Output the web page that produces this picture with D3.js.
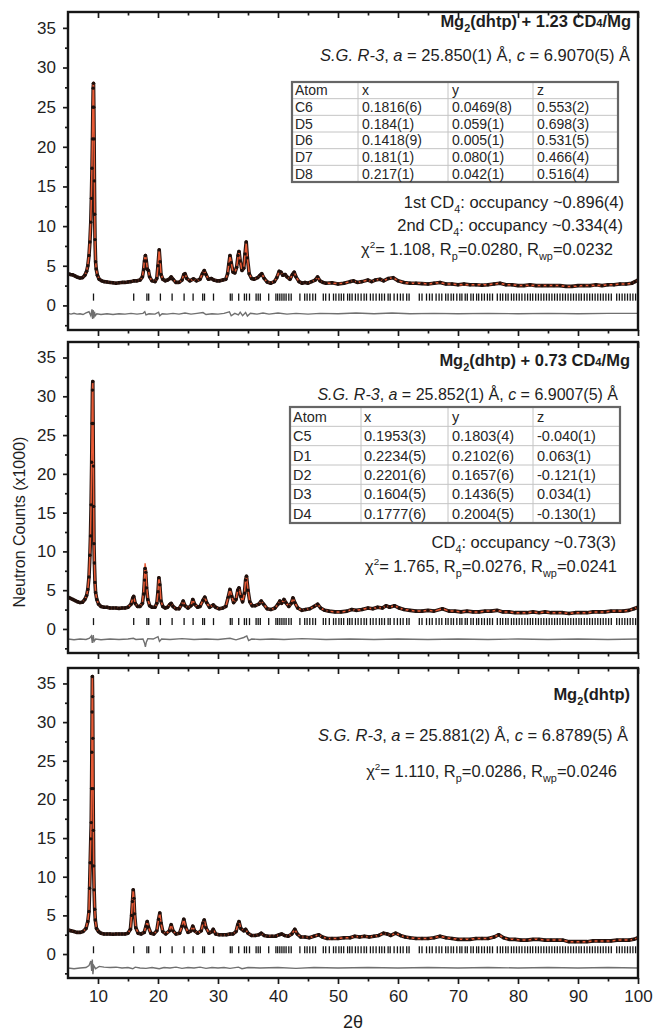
<!DOCTYPE html>
<html><head><meta charset="utf-8">
<script src="https://cdn.jsdelivr.net/npm/d3@7"></script>
<style>
body{margin:0;background:#fff}
svg{display:block}
text{font-family:"Liberation Sans",Arial,Helvetica,sans-serif;white-space:pre}
</style>
</head><body>
<svg id="chart" width="654" height="1032"></svg>
<script>
// ---------------- DATA ----------------
// rows: [2theta, observed (x1000), calculated (x1000)]
const pattern1 = [
[5.0,4.0,3.95],[5.4,3.9,3.9],[5.8,3.85,3.8],[6.2,3.7,3.7],[6.6,3.55,3.6],[7.0,3.45,3.5],[7.4,3.5,3.5],[7.8,3.8,3.8],
[8.1,4.3,4.3],[8.3,5.0,5.1],[8.5,6.3,6.4],[8.65,8.0,8.2],[8.8,10.5,10.8],[8.9,13.5,13.8],[9.0,17.3,17.8],[9.08,21.0,21.5],
[9.15,25.0,25.5],[9.2,27.4,27.8],[9.25,28.0,28.1],[9.3,25.0,25.3],[9.35,21.0,21.2],[9.4,15.7,16.0],[9.45,11.5,11.8],[9.5,8.3,8.5],
[9.6,5.5,5.6],[9.7,4.6,4.6],[9.9,3.8,3.8],[10.2,3.3,3.35],[10.6,3.1,3.1],[11.0,3.0,3.0],[11.5,2.95,2.95],[12.0,2.9,2.9],
[12.5,2.85,2.85],[13.0,2.8,2.85],[13.5,2.85,2.85],[14.0,2.9,2.9],[14.5,2.9,2.9],[15.0,2.95,2.95],[15.5,3.0,3.0],[16.0,3.1,3.1],
[16.5,3.1,3.1],[17.0,3.2,3.2],[17.4,3.6,3.6],[17.6,4.5,4.6],[17.75,5.6,5.8],[17.9,6.3,6.4],[18.05,5.6,5.7],[18.2,4.6,4.7],
[18.4,4.4,4.4],[18.6,3.6,3.6],[19.0,3.1,3.1],[19.5,3.0,3.0],[19.8,3.4,3.4],[20.0,5.0,5.1],[20.2,7.0,7.0],[20.35,5.5,5.6],
[20.5,3.9,4.0],[20.8,3.3,3.3],[21.2,3.1,3.1],[21.6,3.2,3.2],[22.0,3.4,3.4],[22.2,3.6,3.6],[22.5,3.3,3.3],[23.0,2.9,2.9],
[23.5,2.9,2.9],[24.0,3.2,3.2],[24.3,3.9,3.9],[24.5,4.0,4.0],[24.8,3.4,3.4],[25.3,3.1,3.1],[25.9,3.35,3.3],[26.4,3.1,3.1],
[27.0,3.3,3.3],[27.4,4.0,4.0],[27.7,4.4,4.4],[28.0,3.9,3.9],[28.4,3.3,3.3],[28.9,3.4,3.4],[29.3,3.2,3.2],[29.8,3.1,3.1],
[30.3,3.1,3.1],[30.8,3.2,3.2],[31.3,3.3,3.3],[31.6,4.0,4.0],[31.8,5.2,5.2],[32.0,6.3,6.2],[32.2,5.4,5.4],[32.5,4.2,4.2],
[32.8,4.1,4.1],[33.1,4.8,4.8],[33.35,6.3,6.2],[33.5,6.8,6.7],[33.7,5.6,5.6],[34.0,4.4,4.4],[34.3,4.7,4.7],[34.5,6.5,6.4],
[34.7,8.0,7.8],[34.9,6.0,6.0],[35.2,4.0,4.0],[35.6,3.4,3.4],[36.0,3.3,3.3],[36.6,3.5,3.5],[37.0,3.8,3.8],[37.3,4.0,4.0],
[37.7,3.4,3.4],[38.2,2.95,2.95],[38.8,2.8,2.85],[39.4,3.0,3.0],[39.8,3.5,3.5],[40.2,4.3,4.3],[40.5,4.2,4.2],[40.8,3.8,3.8],
[41.2,3.9,3.9],[41.5,3.6,3.6],[42.0,3.3,3.3],[42.4,3.9,3.9],[42.7,4.2,4.2],[43.0,3.6,3.6],[43.5,3.0,3.0],[44.0,2.8,2.8],
[44.5,2.9,2.9],[45.0,2.8,2.8],[45.6,3.0,3.0],[46.2,3.2,3.2],[46.6,3.6,3.6],[47.0,3.1,3.1],[47.5,2.9,2.9],[48.0,2.8,2.8],
[49.0,2.85,2.8],[50.0,2.7,2.75],[51.0,2.8,2.8],[52.0,3.0,3.0],[52.6,3.1,3.1],[53.2,2.9,2.9],[54.0,3.0,3.0],[55.0,3.2,3.2],
[55.6,3.0,3.0],[56.2,3.2,3.2],[57.0,3.3,3.3],[57.6,3.1,3.1],[58.4,3.4,3.4],[59.2,3.5,3.5],[60.0,3.1,3.1],[61.0,2.9,2.9],
[62.0,2.8,2.8],[63.0,2.8,2.8],[64.0,2.75,2.8],[65.0,2.7,2.7],[66.0,2.8,2.8],[67.0,2.9,2.9],[68.0,2.7,2.7],[69.0,2.7,2.7],
[70.0,2.6,2.6],[71.0,2.7,2.65],[72.0,2.6,2.6],[73.0,2.6,2.6],[74.0,2.55,2.6],[75.0,2.6,2.6],[76.0,2.7,2.7],[77.0,2.8,2.8],
[78.0,2.6,2.6],[79.0,2.6,2.6],[80.0,2.5,2.5],[81.0,2.5,2.5],[82.0,2.6,2.55],[83.0,2.5,2.5],[84.0,2.5,2.5],[85.0,2.5,2.5],
[86.0,2.5,2.5],[87.0,2.5,2.5],[88.0,2.4,2.4],[89.0,2.4,2.4],[90.0,2.5,2.45],[91.0,2.5,2.5],[92.0,2.5,2.5],[93.0,2.6,2.55],
[94.0,2.5,2.5],[95.0,2.6,2.6],[96.0,2.6,2.6],[97.0,2.7,2.7],[98.0,2.7,2.7],[99.0,2.8,2.8],[99.5,3.0,3.0],[100.0,3.2,3.2]
];
const pattern2 = [
[5.0,4.1,4.0],[5.4,3.95,3.9],[5.8,3.8,3.8],[6.2,3.65,3.65],[6.6,3.5,3.5],[7.0,3.4,3.4],[7.4,3.45,3.45],[7.8,3.8,3.8],
[8.1,4.3,4.3],[8.3,5.1,5.1],[8.5,6.7,6.8],[8.65,9.5,9.7],[8.75,12.0,12.3],[8.85,16.0,16.3],[8.95,21.5,21.8],[9.02,26.5,26.8],
[9.08,30.8,31.0],[9.13,31.9,32.0],[9.18,26.5,26.8],[9.23,21.0,21.3],[9.28,15.8,16.0],[9.33,11.0,11.3],[9.4,8.5,8.6],[9.5,6.0,6.1],
[9.6,4.7,4.7],[9.8,3.8,3.8],[10.1,3.2,3.2],[10.5,2.9,2.9],[11.0,2.8,2.8],[11.5,2.8,2.8],[12.0,2.7,2.7],[12.5,2.7,2.7],
[13.0,2.7,2.7],[13.5,2.65,2.7],[14.0,2.7,2.7],[14.5,2.7,2.7],[15.0,2.8,2.8],[15.5,3.2,3.2],[15.8,4.0,4.0],[15.95,4.2,4.2],
[16.2,3.3,3.3],[16.6,2.9,2.9],[17.0,2.9,2.9],[17.4,3.3,3.4],[17.6,4.5,4.8],[17.75,6.3,6.8],[17.85,7.8,8.4],[17.95,7.3,7.8],
[18.1,5.3,5.6],[18.3,3.8,3.9],[18.6,3.0,3.0],[19.0,2.8,2.8],[19.5,2.8,2.8],[19.8,3.3,3.3],[20.0,4.8,4.8],[20.15,6.6,6.7],
[20.3,5.7,5.7],[20.5,3.6,3.6],[20.8,2.9,2.9],[21.2,2.7,2.7],[21.6,2.8,2.8],[22.0,3.2,3.2],[22.2,3.3,3.3],[22.5,2.9,2.9],
[23.0,2.6,2.6],[23.5,2.6,2.6],[23.9,3.1,3.1],[24.2,3.6,3.6],[24.5,3.0,3.0],[25.0,2.7,2.7],[25.5,3.0,3.0],[25.8,3.8,3.8],
[26.1,3.2,3.2],[26.6,2.8,2.8],[27.0,2.9,2.9],[27.5,3.7,3.7],[27.8,4.1,4.1],[28.1,3.4,3.4],[28.6,2.8,2.8],[29.2,3.1,3.1],
[29.6,2.8,2.8],[30.2,2.6,2.6],[30.8,2.7,2.7],[31.3,2.9,2.9],[31.7,4.1,4.1],[32.0,5.1,5.1],[32.3,4.2,4.2],[32.6,3.4,3.4],
[33.0,3.8,3.8],[33.3,5.0,5.0],[33.5,5.3,5.3],[33.8,4.2,4.2],[34.1,3.5,3.5],[34.4,4.6,4.6],[34.6,6.3,6.3],[34.75,6.8,6.8],
[35.0,5.0,5.0],[35.3,3.5,3.5],[35.7,3.0,3.0],[36.2,3.0,3.0],[36.8,3.2,3.2],[37.2,3.6,3.6],[37.6,3.2,3.2],[38.2,2.6,2.6],
[38.8,2.5,2.5],[39.5,2.7,2.7],[40.0,3.2,3.2],[40.3,3.6,3.6],[40.6,3.3,3.3],[41.0,3.8,3.8],[41.3,3.4,3.4],[41.8,2.9,2.9],
[42.2,3.3,3.3],[42.5,4.0,4.0],[42.8,3.4,3.4],[43.3,2.7,2.7],[44.0,2.4,2.4],[44.6,2.5,2.5],[45.3,2.6,2.6],[46.0,2.9,2.9],
[46.6,3.2,3.2],[47.1,2.7,2.7],[47.8,2.4,2.4],[48.5,2.3,2.3],[49.5,2.2,2.2],[50.5,2.2,2.2],[51.5,2.3,2.3],[52.3,2.5,2.5],
[53.0,2.4,2.4],[54.0,2.5,2.5],[55.0,2.7,2.7],[55.8,2.6,2.6],[56.6,2.8,2.8],[57.4,2.7,2.7],[58.0,3.0,3.0],[58.6,2.8,2.8],
[59.4,3.0,3.0],[60.2,2.7,2.7],[61.0,2.5,2.5],[62.0,2.4,2.4],[63.0,2.3,2.3],[64.0,2.3,2.3],[65.0,2.4,2.4],[66.0,2.3,2.3],
[67.4,2.6,2.6],[68.5,2.3,2.3],[69.5,2.3,2.3],[70.5,2.2,2.2],[71.5,2.3,2.3],[72.5,2.2,2.2],[73.5,2.2,2.2],[74.5,2.3,2.3],
[75.5,2.3,2.3],[76.5,2.4,2.4],[77.5,2.2,2.2],[78.5,2.2,2.2],[79.5,2.1,2.1],[80.5,2.1,2.1],[81.5,2.1,2.1],[82.5,2.2,2.2],
[83.5,2.1,2.1],[84.5,2.2,2.2],[85.5,2.1,2.1],[86.5,2.1,2.1],[87.5,2.1,2.1],[88.5,2.0,2.0],[89.5,2.1,2.1],[90.5,2.1,2.1],
[91.5,2.1,2.1],[92.5,2.2,2.2],[93.5,2.2,2.2],[94.5,2.2,2.2],[95.5,2.3,2.3],[96.5,2.3,2.3],[97.5,2.3,2.3],[98.5,2.4,2.4],
[99.3,2.6,2.6],[100.0,2.8,2.8]
];
const pattern3 = [
[5.0,3.1,3.1],[5.5,3.0,3.0],[6.0,2.9,2.9],[6.5,2.8,2.8],[7.0,2.8,2.8],[7.5,2.9,2.9],[8.0,3.3,3.3],[8.3,4.2,4.3],
[8.5,5.5,5.7],[8.6,8.5,8.7],[8.7,11.8,12.0],[8.8,14.9,15.3],[8.87,17.0,17.4],[8.93,21.4,21.8],[8.98,26.1,26.5],[9.02,31.3,31.6],
[9.06,35.9,35.8],[9.1,33.3,33.5],[9.14,27.9,28.2],[9.18,21.4,21.7],[9.23,16.0,16.2],[9.28,11.4,11.6],[9.35,8.3,8.4],[9.45,5.8,5.9],
[9.55,4.4,4.4],[9.75,3.3,3.3],[10.1,2.9,2.9],[10.5,2.7,2.7],[11.0,2.6,2.6],[11.5,2.6,2.6],[12.0,2.6,2.6],[12.5,2.55,2.6],
[13.0,2.6,2.6],[13.5,2.6,2.6],[14.0,2.6,2.6],[14.5,2.6,2.6],[15.0,2.7,2.7],[15.4,3.2,3.2],[15.6,5.0,5.1],[15.75,6.8,6.9],
[15.87,8.3,8.3],[15.98,7.2,7.3],[16.1,5.2,5.3],[16.3,3.4,3.4],[16.7,2.7,2.7],[17.2,2.6,2.6],[17.7,2.8,2.8],[18.0,3.6,3.6],
[18.2,4.2,4.2],[18.4,3.5,3.5],[18.8,2.7,2.7],[19.3,2.6,2.6],[19.8,3.0,3.0],[20.1,4.5,4.5],[20.3,5.3,5.3],[20.5,4.0,4.0],
[20.8,2.9,2.9],[21.3,2.6,2.6],[21.9,3.0,3.0],[22.2,3.8,3.8],[22.5,3.0,3.0],[23.0,2.6,2.6],[23.6,2.7,2.7],[24.0,3.6,3.6],
[24.3,4.5,4.5],[24.6,3.5,3.5],[25.0,2.8,2.8],[25.5,3.0,3.0],[25.8,3.6,3.6],[26.1,3.0,3.0],[26.6,2.7,2.7],[27.2,3.0,3.0],
[27.5,4.0,4.0],[27.7,4.4,4.4],[28.0,3.4,3.4],[28.5,2.7,2.7],[29.0,2.9,2.9],[29.2,3.2,3.2],[29.6,2.6,2.6],[30.2,2.5,2.5],
[30.8,2.5,2.5],[31.4,2.5,2.5],[32.0,2.6,2.6],[32.5,2.6,2.6],[33.0,2.9,2.9],[33.3,3.8,3.8],[33.5,4.2,4.2],[33.8,3.3,3.3],
[34.3,3.0,3.0],[34.6,3.2,3.2],[35.0,2.7,2.7],[35.6,2.4,2.4],[36.2,2.4,2.4],[36.8,2.5,2.5],[37.2,2.7,2.7],[37.7,2.4,2.4],
[38.3,2.3,2.3],[39.0,2.3,2.3],[39.6,2.3,2.3],[40.2,2.5,2.5],[40.6,2.6,2.6],[41.1,2.4,2.4],[41.7,2.3,2.3],[42.3,2.6,2.6],
[42.8,3.2,3.2],[43.2,2.6,2.6],[43.8,2.2,2.2],[44.5,2.2,2.2],[45.2,2.1,2.1],[46.0,2.3,2.3],[46.8,2.5,2.5],[47.4,2.2,2.2],
[48.2,2.0,2.0],[49.0,2.0,2.0],[50.0,2.0,2.0],[51.0,2.1,2.1],[52.0,2.1,2.1],[52.8,2.3,2.3],[53.6,2.2,2.2],[54.4,2.3,2.3],
[55.2,2.2,2.2],[56.0,2.3,2.3],[56.8,2.4,2.4],[57.6,2.7,2.7],[58.2,2.6,2.6],[58.8,2.4,2.4],[59.6,2.7,2.7],[60.4,2.4,2.4],
[61.2,2.2,2.2],[62.0,2.1,2.1],[63.0,2.0,2.0],[64.0,2.0,2.0],[65.0,2.0,2.0],[66.0,2.1,2.1],[67.0,2.3,2.3],[68.0,2.1,2.1],
[69.0,2.0,2.0],[70.0,1.9,1.9],[71.0,1.9,1.9],[72.0,1.9,1.9],[73.0,2.0,2.0],[74.0,2.0,2.0],[75.0,2.0,2.0],[76.0,2.2,2.2],
[76.8,2.5,2.5],[77.6,2.1,2.1],[78.5,1.9,1.9],[79.5,1.9,1.9],[80.5,1.8,1.8],[81.5,1.8,1.8],[82.5,1.9,1.9],[83.5,1.9,1.9],
[84.5,1.8,1.8],[85.5,1.8,1.8],[86.5,1.8,1.8],[87.5,1.8,1.8],[88.5,1.6,1.6],[89.5,1.6,1.6],[90.5,1.6,1.6],[91.5,1.6,1.6],
[92.5,1.7,1.7],[93.5,1.7,1.7],[94.5,1.7,1.7],[95.5,1.7,1.7],[96.5,1.8,1.8],[97.5,1.8,1.8],[98.5,1.8,1.8],[99.3,1.9,1.9],
[100.0,2.1,2.1]
];
// difference curves: [2theta, value]
const diff1 = [[5,-1.0],[5.5,-1.1],[6,-1.0],[6.5,-1.1],[7,-1.05],[7.5,-1.15],[8,-0.95],[8.5,-0.8],[8.8,-1.3],[9.0,-0.5],[9.1,-1.7],[9.2,-0.6],[9.3,-1.6],[9.4,-0.8],[9.55,-1.3],[9.8,-1.05],[10.5,-1.15],[11.5,-1.05],[12.5,-1.15],[13.5,-1.05],[14.5,-1.1],[15.5,-1.0],[16.5,-1.1],[17.5,-1.0],[17.8,-0.8],[18.0,-1.2],[18.5,-1.05],[19.5,-1.1],[20.1,-0.85],[20.3,-1.3],[20.7,-1.05],[21.5,-1.1],[22.5,-1.0],[23.5,-1.1],[24.5,-0.95],[25.5,-1.1],[26.5,-1.0],[27.5,-0.9],[28.0,-1.15],[29,-1.05],[30,-1.1],[31,-1.0],[31.9,-0.8],[32.2,-1.3],[32.8,-1.0],[33.4,-1.2],[33.7,-0.85],[34.1,-1.3],[34.6,-0.9],[34.9,-1.35],[35.4,-1.0],[36.5,-1.1],[37.5,-0.95],[38.5,-1.1],[40,-0.95],[41.5,-1.1],[43,-1.0],[45,-1.1],[47,-1.0],[50,-1.05],[53,-0.95],[56,-1.05],[59,-0.95],[62,-1.05],[66,-1.0],[70,-1.05],[75,-1.0],[80,-1.05],[85,-1.0],[90,-1.05],[95,-1.0],[100,-1.0]];
const diff2 = [[5,-1.3],[6,-1.4],[7,-1.3],[8,-1.35],[8.6,-1.2],[8.9,-0.9],[9.05,-1.8],[9.2,-0.8],[9.35,-1.6],[9.6,-1.3],[10.5,-1.4],[12,-1.3],[13.5,-1.35],[15,-1.3],[15.9,-1.2],[16.3,-1.35],[17.5,-1.3],[17.75,-1.8],[17.9,-2.3],[18.05,-1.7],[18.3,-1.25],[19.2,-1.3],[20.0,-1.0],[20.25,-1.6],[20.6,-1.3],[22,-1.35],[24,-1.25],[26,-1.35],[28,-1.3],[30,-1.35],[32,-1.2],[33,-1.4],[34.3,-1.1],[34.8,-0.9],[35.1,-1.5],[35.6,-1.3],[37,-1.35],[39,-1.3],[41,-1.35],[44,-1.25],[48,-1.35],[52,-1.3],[56,-1.35],[60,-1.3],[65,-1.35],[70,-1.3],[75,-1.35],[80,-1.3],[85,-1.35],[90,-1.3],[95,-1.35],[100,-1.3]];
const diff3 = [[5,-1.8],[6,-1.9],[7,-1.8],[8,-1.75],[8.5,-1.5],[8.8,-0.9],[8.95,-2.2],[9.05,-0.7],[9.15,-2.6],[9.3,-1.5],[9.6,-1.9],[10.2,-1.6],[11,-1.7],[12,-1.75],[13,-1.7],[14,-1.8],[15,-1.75],[15.8,-1.9],[16.2,-1.7],[17,-1.8],[18,-1.85],[19,-1.75],[20.2,-1.9],[21,-1.75],[22,-1.8],[23,-1.7],[24,-1.85],[25,-1.75],[26,-1.8],[27,-1.7],[28,-1.85],[29,-1.75],[30,-1.8],[31,-1.75],[32,-1.85],[33.4,-1.7],[34,-1.9],[35,-1.75],[37,-1.8],[40,-1.75],[43,-1.85],[46,-1.75],[50,-1.8],[55,-1.75],[60,-1.8],[65,-1.75],[70,-1.8],[75,-1.75],[80,-1.8],[85,-1.75],[90,-1.8],[95,-1.75],[100,-1.8]];
// Bragg reflection positions (2theta)
const braggPositions = [9.25,15.95,18.15,18.45,20.4,22.35,24.35,25.85,27.45,27.75,29.25,
32.05,32.35,33.45,34.4,34.75,35.25,36.35,36.7,37.05,38.45,39.65,39.95,40.3,40.65,41.0,41.35,41.8,42.2,43.65,44.45,44.85,45.3,45.8,46.25,
47.55,47.95,48.55,49.25,49.65,50.15,50.55,50.95,51.6,51.95,52.35,52.9,53.35,53.85,54.35,54.75,55.4,55.85,56.35,56.9,57.3,57.75,58.35,58.7,59.35,59.9,60.4,60.85,61.45,61.85,
63.55,64.0,64.75,65.25,65.7,66.35,66.85,67.3,67.95,68.35,68.85,69.25,69.8,70.3,70.65,71.2,71.55,72.15,72.55,73.1,73.45,73.95,74.4,74.9,75.3,75.75,76.55,77.05,77.45,77.95,78.35,78.9,79.3,79.75,80.2,80.65,81.15,81.6,82.05,82.45,82.95,83.4,83.85,84.3,84.75,85.2,85.65,86.1,86.55,87.0,87.45,87.9,88.35,88.8,89.25,89.7,90.15,90.55,91.05,91.5,91.95,92.4,92.85,93.3,93.75,94.2,94.65,95.1,95.55,96.45,96.9,97.35,97.8,98.25,98.7,99.15,99.6];
const xTickMajor = [10,20,30,40,50,60,70,80,90,100];
const xTickMinor = [15,25,35,45,55,65,75,85,95];
const yTickMajor = [0,5,10,15,20,25,30,35];
const yTickMinor = [-2.5,2.5,7.5,12.5,17.5,22.5,27.5,32.5];
// tables
const tableHeader = ["Atom","x","y","z"];
const table1Atoms = ["C6","D5","D6","D7","D8"];
const table1X = ["0.1816(6)","0.184(1)","0.1418(9)","0.181(1)","0.217(1)"];
const table1Y = ["0.0469(8)","0.059(1)","0.005(1)","0.080(1)","0.042(1)"];
const table1Z = ["0.553(2)","0.698(3)","0.531(5)","0.466(4)","0.516(4)"];
const table2Atoms = ["C5","D1","D2","D3","D4"];
const table2X = ["0.1953(3)","0.2234(5)","0.2201(6)","0.1604(5)","0.1777(6)"];
const table2Y = ["0.1803(4)","0.2102(6)","0.1657(6)","0.1436(5)","0.2004(5)"];
const table2Z = ["-0.040(1)","0.063(1)","-0.121(1)","0.034(1)","-0.130(1)"];
// annotations (segments: [text, kind])
const title1 = [["Mg",""],["2","sub"],["(dhtp) + 1.23 CD",""],["4","small"],["/Mg",""]];
const title2 = [["Mg",""],["2","sub"],["(dhtp) + 0.73 CD",""],["4","small"],["/Mg",""]];
const title3 = [["Mg",""],["2","sub"],["(dhtp)",""]];
const cell1 = [["S.G. R-3","it"],[", ",""],["a","it"],[" = 25.850(1) Å, ",""],["c","it"],[" = 6.9070(5) Å",""]];
const cell2 = [["S.G. R-3","it"],[", ",""],["a","it"],[" = 25.852(1) Å, ",""],["c","it"],[" = 6.9007(5) Å",""]];
const cell3 = [["S.G. R-3","it"],[", ",""],["a","it"],[" = 25.881(2) Å, ",""],["c","it"],[" = 6.8789(5) Å",""]];
const occ1a = [["1st CD",""],["4","sub"],[": occupancy ~0.896(4)",""]];
const occ1b = [["2nd CD",""],["4","sub"],[": occupancy ~0.334(4)",""]];
const occ2 = [["CD",""],["4","sub"],[": occupancy ~0.73(3)",""]];
const fit1 = [["χ",""],["2","sup"],["= 1.108, R",""],["p","sub"],["=0.0280, R",""],["wp","sub"],["=0.0232",""]];
const fit2 = [["χ",""],["2","sup"],["= 1.765, R",""],["p","sub"],["=0.0276, R",""],["wp","sub"],["=0.0241",""]];
const fit3 = [["χ",""],["2","sup"],["= 1.110, R",""],["p","sub"],["=0.0286, R",""],["wp","sub"],["=0.0246",""]];

// ---------------- DRAWING ----------------
const svg = d3.select("#chart");
const x = d3.scaleLinear().domain([5,100]).range([68,638]);
const TXT = "#1e1e1e";

function rich(sel, px, py, size, parts, weight){
  const t = sel.append("text").attr("x",px).attr("y",py).attr("text-anchor","end")
    .attr("font-size",size).attr("font-weight",weight||"normal").attr("fill",TXT);
  let shift = 0;
  parts.forEach(([str,kind])=>{
    let target=0, fs=size, style="normal";
    if(kind==="sub"){target=size*0.3; fs=size*0.66;}
    if(kind==="sup"){target=-size*0.4; fs=size*0.6;}
    if(kind==="small"){fs=size*0.68;}
    if(kind==="it"){style="italic";}
    t.append("tspan").attr("dy",target-shift).attr("font-size",fs).attr("font-style",style).text(str);
    shift=target;
  });
}

function drawTable(g, box, colX, divX, atoms, xs, ys, zs, fs){
  const rows = [tableHeader].concat(atoms.map((a,i)=>[a,xs[i],ys[i],zs[i]]));
  const rh = (box.bottom-box.top)/rows.length;
  const ry = d3.scaleLinear().domain([0,rows.length]).range([box.top,box.bottom]);
  g.selectAll(null).data(d3.range(1,rows.length)).join("line")
    .attr("x1",box.left).attr("x2",box.right).attr("y1",d=>ry(d)).attr("y2",d=>ry(d))
    .attr("stroke","#c4c4c4").attr("stroke-width",1);
  g.selectAll(null).data(divX).join("line")
    .attr("x1",d=>d).attr("x2",d=>d).attr("y1",box.top).attr("y2",box.bottom)
    .attr("stroke","#c4c4c4").attr("stroke-width",1);
  g.append("rect").attr("x",box.left).attr("y",box.top).attr("width",box.right-box.left)
    .attr("height",box.bottom-box.top).attr("fill","none").attr("stroke","#666").attr("stroke-width",2.2);
  rows.forEach((r,i)=>{
    r.forEach((c,j)=>{
      g.append("text").attr("x",colX[j]).attr("y",ry(i)+rh/2+fs*0.36)
        .attr("font-size",fs).attr("fill","#262626").text(c);
    });
  });
}

const panels = [
  {top:12,bottom:330,data:pattern1,diff:diff1,tick:[0.6,1.5],labels:false},
  {top:342,bottom:653,data:pattern2,diff:diff2,tick:[0.5,1.4],labels:false},
  {top:668,bottom:978,data:pattern3,diff:diff3,tick:[0.1,1.0],labels:true}
];

panels.forEach((p,pi)=>{
  const y = d3.scaleLinear().domain([-3.1,37]).range([p.bottom,p.top]);
  const g = svg.append("g");
  const cid = "clip"+pi;
  svg.append("clipPath").attr("id",cid).append("rect")
    .attr("x",68).attr("y",p.top).attr("width",570).attr("height",p.bottom-p.top);
  const plot = g.append("g").attr("clip-path",`url(#${cid})`);

  // difference curve
  plot.append("path").datum(p.diff)
    .attr("d",d3.line().x(d=>x(d[0])).y(d=>y(d[1])))
    .attr("fill","none").attr("stroke","#707070").attr("stroke-width",1.4);
  // Bragg ticks
  plot.selectAll(null).data(braggPositions).join("line")
    .attr("x1",d=>x(d)).attr("x2",d=>x(d)).attr("y1",y(p.tick[0])).attr("y2",y(p.tick[1]))
    .attr("stroke","#151515").attr("stroke-width",1.3);
  // observed (band + points)
  plot.append("path").datum(p.data)
    .attr("d",d3.line().x(d=>x(d[0])).y(d=>y(d[1])))
    .attr("fill","none").attr("stroke","#2a1611").attr("stroke-width",3.6).attr("stroke-linejoin","round");
  // calculated
  plot.append("path").datum(p.data)
    .attr("d",d3.line().x(d=>x(d[0])).y(d=>y(d[2])))
    .attr("fill","none").attr("stroke","#e85a35").attr("stroke-width",1.5).attr("stroke-linejoin","round");
  plot.selectAll(null).data(p.data).join("circle")
    .attr("cx",d=>x(d[0])).attr("cy",d=>y(d[1])).attr("r",1.7).attr("fill","#1f0f0b");

  // y axis
  const yMaj = g.append("g").attr("transform","translate(68,0)")
    .call(d3.axisLeft(y).tickValues(yTickMajor).tickSize(5).tickPadding(7).tickFormat(d3.format("d")));
  const yMin = g.append("g").attr("transform","translate(68,0)")
    .call(d3.axisLeft(y).tickValues(yTickMinor).tickSize(3).tickFormat(""));
  // x axes: bottom (outward) and top (inward)
  const xb = g.append("g").attr("transform",`translate(0,${p.bottom})`)
    .call(d3.axisBottom(x).tickValues(xTickMajor).tickSize(6).tickPadding(6)
      .tickFormat(p.labels ? d3.format("d") : ""));
  const xbm = g.append("g").attr("transform",`translate(0,${p.bottom})`)
    .call(d3.axisBottom(x).tickValues(xTickMinor).tickSize(3.5).tickFormat(""));
  const xt = g.append("g").attr("transform",`translate(0,${p.top})`)
    .call(d3.axisBottom(x).tickValues(xTickMajor).tickSize(6).tickFormat(""));
  const xtm = g.append("g").attr("transform",`translate(0,${p.top})`)
    .call(d3.axisBottom(x).tickValues(xTickMinor).tickSize(3.5).tickFormat(""));
  [yMaj,yMin,xb,xbm,xt,xtm].forEach(a=>{
    a.select(".domain").remove();
    a.selectAll(".tick line").attr("stroke","#1a1a1a").attr("stroke-width",1.7);
    a.selectAll("text").attr("font-size",17).attr("font-family","Liberation Sans, Arial, sans-serif").attr("fill",TXT);
  });
  // frame
  g.append("rect").attr("x",68).attr("y",p.top).attr("width",570).attr("height",p.bottom-p.top)
    .attr("fill","none").attr("stroke","#161616").attr("stroke-width",2.4);
});

// annotations panel 1
const ann = svg.append("g");
rich(ann,631,27,16.5,title1,"bold");
rich(ann,630,61,16.5,cell1);
drawTable(ann,{left:292,right:618,top:82,bottom:182},[295,362,452,537],[358,448,533],table1Atoms,table1X,table1Y,table1Z,14);
rich(ann,624,208,16.5,occ1a);
rich(ann,623,231,16.5,occ1b);
rich(ann,613,255,16.5,fit1);
// panel 2
rich(ann,630,366,16.5,title2,"bold");
rich(ann,618,400,16,cell2);
drawTable(ann,{left:290,right:620,top:407,bottom:523},[293,364,452,537],[361,448,533],table2Atoms,table2X,table2Y,table2Z,14.5);
rich(ann,616,548,16.5,occ2);
rich(ann,617,572,16.5,fit2);
// panel 3
rich(ann,630,700,16.5,title3,"bold");
rich(ann,628,741,16.5,cell3);
rich(ann,617,777,16.5,fit3);

// axis titles
svg.append("text").attr("x",353).attr("y",1028).attr("text-anchor","middle")
  .attr("font-size",18).attr("fill",TXT).text("2θ");
svg.append("text").attr("transform","translate(25,522) rotate(-90)").attr("text-anchor","middle")
  .attr("font-size",16).attr("fill",TXT).text("Neutron Counts (x1000)");
</script>
</body></html>
